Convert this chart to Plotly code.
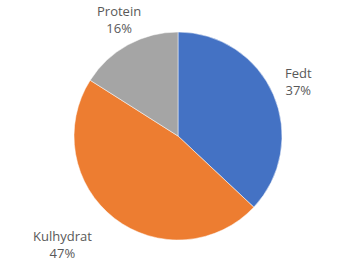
import math
import plotly.graph_objects as go

labels = ["Fedt", "Kulhydrat", "Protein"]
values = [37, 47, 16]
colors = ["#4472C4", "#ED7D31", "#A5A5A5"]

# label placement style (distance in radii, angle nudge in degrees)
label_dist = [1.27, 1.52, 1.26]
label_nudge = [-1, 9, 2]

W, H = 359, 268
dom_x = [74 / W, 282 / W]
dom_y = [(H - 240) / H, (H - 32) / H]
cx = (dom_x[0] + dom_x[1]) / 2 * W
cy_up = (dom_y[0] + dom_y[1]) / 2 * H
r = (dom_x[1] - dom_x[0]) * W / 2

fig = go.Figure(go.Pie(
    labels=labels, values=values, sort=False, direction="clockwise",
    rotation=0, marker=dict(colors=colors, line=dict(color="white", width=0.5)),
    textinfo="none", hoverinfo="label+percent",
    domain=dict(x=dom_x, y=dom_y), showlegend=False,
))

total = sum(values)
cum = 0
annotations = []
for i, (lab, v) in enumerate(zip(labels, values)):
    mid = (cum + v / 2) / total * 360 + label_nudge[i]
    cum += v
    a = math.radians(mid)
    d = label_dist[i] * r
    x = cx + d * math.sin(a)
    y = cy_up + d * math.cos(a)
    pct = round(v / total * 100)
    annotations.append(dict(
        x=x / W, y=y / H, xref="paper", yref="paper",
        text=f"{lab}<br>{pct}%", showarrow=False,
        font=dict(family="Open Sans", size=13, color="#595959"),
        xanchor="center", yanchor="middle", align="center",
    ))

fig.update_layout(
    width=W, height=H, margin=dict(l=0, r=0, t=0, b=0),
    paper_bgcolor="white", plot_bgcolor="white",
    annotations=annotations,
)
fig.write_html("out.html")
